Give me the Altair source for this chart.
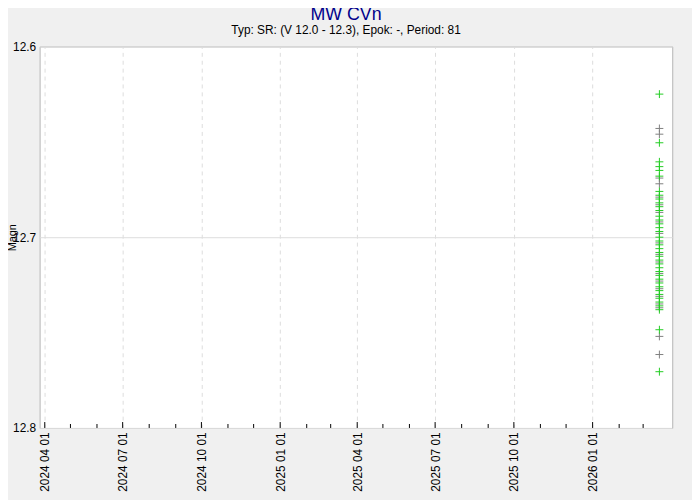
import altair as alt
import pandas as pd

# ---- data ----
obs_date = "2026-03-20"
green_mags = [12.625, 12.6505, 12.6605, 12.663, 12.665, 12.668,
              12.676, 12.678, 12.680, 12.682, 12.684, 12.686, 12.689, 12.691,
              12.693, 12.695, 12.697, 12.700, 12.702, 12.704, 12.706, 12.708,
              12.710, 12.712, 12.714, 12.716, 12.718, 12.720, 12.722, 12.724,
              12.726, 12.728, 12.730, 12.732, 12.734, 12.736, 12.738, 12.7485,
              12.7705]
grey_mags = [12.643, 12.646, 12.669, 12.672, 12.679, 12.683, 12.687, 12.692,
             12.698, 12.703, 12.709, 12.713, 12.719, 12.723, 12.727, 12.731,
             12.735, 12.737, 12.752, 12.7615]
month_starts = pd.date_range("2024-04-01", "2026-03-01", freq="MS").strftime("%Y-%m-%d").tolist()
quarter_starts = [m for m in month_starts if int(m[5:7]) in (1, 4, 7, 10)]
minor_months = [m for m in month_starts if m not in quarter_starts]

W, H = 640, 386

df = pd.DataFrame(
    [{"date": obs_date, "mag": m, "src": "grey"} for m in grey_mags]
    + [{"date": obs_date, "mag": m, "src": "green"} for m in green_mags]
)

xscale = alt.Scale(type="utc", domain=[alt.DateTime(year=2024, month=3, date=26, utc=True),
                                       alt.DateTime(year=2026, month=4, date=4, utc=True)])
yscale = alt.Scale(domain=[12.6, 12.8], reverse=True, zero=False, nice=False)

qvals = [alt.DateTime(year=int(q[:4]), month=int(q[5:7]), date=1, utc=True) for q in quarter_starts]

xaxis = alt.Axis(values=qvals, labelExpr="utcFormat(datum.value, '%Y %m %d')", labelAngle=270,
                 labelAlign="right", labelBaseline="middle", labelPadding=4,
                 labelFont="Liberation Sans", labelFontSize=12, labelColor="#000",
                 ticks=False, domain=False, grid=True, gridColor="#dddddd",
                 gridDash=[4, 4], title=None, labelOverlap=False)
yaxis = alt.Axis(values=[12.6, 12.7, 12.8], format=".1f", labelFont="Liberation Sans",
                 labelFontSize=12, labelColor="#000", labelPadding=4, ticks=False,
                 domain=False, grid=True, gridColor="#dddddd", title="Magn",
                 titleFont="Liberation Sans", titleFontSize=11, titleFontWeight="normal",
                 titleColor="#000", titleX=-27, titleY=H / 2, titleBaseline="middle",
                 titleAngle=270, labelOverlap=False)

plus = "M-1,0L1,0M0,-1L0,1"

base = alt.Chart(df)
X = alt.X("date:T", scale=xscale, axis=xaxis)
Y = alt.Y("mag:Q", scale=yscale, axis=yaxis)
pts_grey = base.transform_filter(alt.datum.src == "grey").mark_point(
    shape=plus, size=64, filled=False, strokeWidth=1, color="#808080", opacity=1
).encode(x=X, y=Y)
pts_green = base.transform_filter(alt.datum.src == "green").mark_point(
    shape=plus, size=64, filled=False, strokeWidth=1, color="#22cc22", opacity=1
).encode(x=X, y=Y)

major = alt.Chart(pd.DataFrame({"d": quarter_starts})).mark_rule(color="#000", strokeWidth=1).encode(
    x=alt.X("d:T", scale=xscale, axis=xaxis), y=alt.value(H - 6), y2=alt.value(H))
minor = alt.Chart(pd.DataFrame({"d": minor_months})).mark_rule(color="#000", strokeWidth=1).encode(
    x=alt.X("d:T", scale=xscale, axis=xaxis), y=alt.value(H - 4), y2=alt.value(H))

chart = alt.layer(pts_grey, pts_green, major, minor).properties(
    width=W, height=H,
    autosize=alt.AutoSizeParams(type="none"),
    padding={"left": 32, "top": 36, "right": 20, "bottom": 70},
    background="#f0f0f0",
    title=alt.TitleParams(
        text="MW CVn", subtitle="Typ: SR: (V 12.0 - 12.3), Epok: -, Period: 81",
        font="Liberation Sans", fontSize=18, fontWeight="normal", color="#00008b",
        subtitleFont="Liberation Sans", subtitleFontSize=12, subtitleColor="#000",
        subtitlePadding=1, anchor="middle", dx=-10, offset=5),
).configure_view(fill="white", stroke="#b4b4b4", strokeWidth=1)

chart.save("out.html", embed_options={"renderer": "svg", "actions": False})
